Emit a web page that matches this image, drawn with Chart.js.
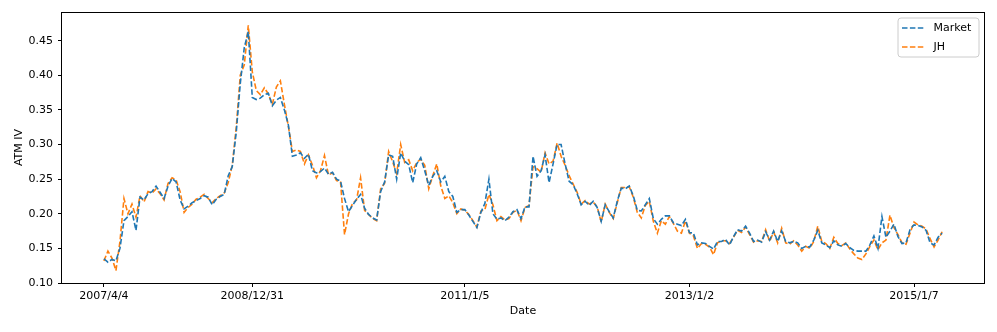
<!DOCTYPE html>
<html>
<head>
<meta charset="utf-8">
<script src="https://cdn.jsdelivr.net/npm/chart.js@4.4.1/dist/chart.umd.min.js"></script>
<style>
  html, body { margin: 0; padding: 0; background: #fff; }
  #wrap { position: relative; width: 997px; height: 332px; }
</style>
</head>
<body>
<div id="wrap"><canvas id="ivChart"></canvas></div>
<script>
// x axis is the observation index; only a few dates are labelled
const tickLabels = ['2007/4/4', '2008/12/31', '2011/1/5', '2013/1/2', '2015/1/7'];
const tickIndex = [0, 37, 90, 146, 202];
const yTicks = [0.10, 0.15, 0.20, 0.25, 0.30, 0.35, 0.40, 0.45];

const market = [
  0.135, 0.130, 0.134, 0.132, 0.150, 0.190, 0.196, 0.203, 0.176, 0.224,
  0.220, 0.229, 0.232, 0.240, 0.231, 0.222, 0.240, 0.251, 0.246, 0.220,
  0.207, 0.211, 0.216, 0.219, 0.222, 0.226, 0.224, 0.213, 0.221, 0.225,
  0.228, 0.255, 0.268, 0.318, 0.388, 0.440, 0.463, 0.368, 0.365, 0.367,
  0.372, 0.374, 0.356, 0.364, 0.368, 0.350, 0.328, 0.283, 0.285, 0.288,
  0.280, 0.286, 0.262, 0.259, 0.261, 0.266, 0.257, 0.260, 0.250, 0.247,
  0.222, 0.203, 0.212, 0.221, 0.228, 0.208, 0.199, 0.194, 0.191, 0.232,
  0.246, 0.285, 0.283, 0.250, 0.288, 0.276, 0.271, 0.245, 0.272, 0.281,
  0.262, 0.241, 0.254, 0.262, 0.246, 0.254, 0.232, 0.225, 0.202, 0.206,
  0.206, 0.198, 0.189, 0.180, 0.202, 0.215, 0.250, 0.200, 0.192, 0.194,
  0.190, 0.195, 0.203, 0.206, 0.193, 0.210, 0.210, 0.283, 0.254, 0.262,
  0.285, 0.245, 0.272, 0.300, 0.300, 0.272, 0.247, 0.242, 0.229, 0.213,
  0.218, 0.212, 0.218, 0.209, 0.189, 0.213, 0.203, 0.194, 0.218, 0.237,
  0.236, 0.240, 0.226, 0.205, 0.204, 0.213, 0.222, 0.193, 0.185, 0.192,
  0.197, 0.197, 0.187, 0.185, 0.183, 0.192, 0.173, 0.172, 0.155, 0.158,
  0.157, 0.153, 0.149, 0.160, 0.160, 0.163, 0.155, 0.167, 0.177, 0.175,
  0.182, 0.172, 0.160, 0.162, 0.159, 0.174, 0.162, 0.175, 0.160, 0.175,
  0.160, 0.158, 0.160, 0.158, 0.150, 0.153, 0.152, 0.162, 0.176, 0.158,
  0.155, 0.151, 0.161, 0.155, 0.153, 0.157, 0.151, 0.147, 0.146, 0.146,
  0.146, 0.155, 0.168, 0.150, 0.196, 0.166, 0.175, 0.185, 0.167, 0.157,
  0.158, 0.177, 0.184, 0.183, 0.181, 0.176, 0.158, 0.155, 0.166, 0.172
];

const jh = [
  0.132, 0.146, 0.136, 0.118, 0.160, 0.222, 0.200, 0.214, 0.195, 0.226,
  0.217, 0.232, 0.230, 0.236, 0.229, 0.220, 0.244, 0.252, 0.249, 0.232,
  0.202, 0.209, 0.214, 0.221, 0.224, 0.228, 0.222, 0.216, 0.222, 0.226,
  0.230, 0.245, 0.270, 0.325, 0.400, 0.415, 0.472, 0.405, 0.378, 0.372,
  0.382, 0.373, 0.358, 0.383, 0.392, 0.358, 0.326, 0.290, 0.292, 0.290,
  0.272, 0.285, 0.270, 0.252, 0.262, 0.284, 0.256, 0.259, 0.248, 0.246,
  0.170, 0.200, 0.215, 0.220, 0.252, 0.205, 0.199, 0.193, 0.190, 0.236,
  0.244, 0.290, 0.275, 0.258, 0.300, 0.274, 0.278, 0.262, 0.274, 0.279,
  0.270, 0.236, 0.255, 0.272, 0.240, 0.222, 0.226, 0.216, 0.200, 0.207,
  0.205, 0.199, 0.190, 0.181, 0.204, 0.206, 0.228, 0.213, 0.190, 0.196,
  0.191, 0.193, 0.202, 0.205, 0.190, 0.209, 0.212, 0.268, 0.265, 0.260,
  0.288, 0.272, 0.276, 0.302, 0.283, 0.270, 0.255, 0.243, 0.231, 0.214,
  0.219, 0.214, 0.217, 0.210, 0.188, 0.214, 0.202, 0.193, 0.216, 0.238,
  0.238, 0.239, 0.224, 0.202, 0.194, 0.212, 0.218, 0.189, 0.172, 0.190,
  0.185, 0.196, 0.186, 0.175, 0.172, 0.190, 0.172, 0.168, 0.150, 0.157,
  0.156, 0.152, 0.141, 0.158, 0.161, 0.161, 0.157, 0.166, 0.176, 0.173,
  0.181, 0.170, 0.159, 0.161, 0.160, 0.177, 0.160, 0.174, 0.158, 0.179,
  0.158, 0.156, 0.161, 0.155, 0.146, 0.153, 0.150, 0.160, 0.182, 0.160,
  0.157, 0.150, 0.166, 0.157, 0.154, 0.158, 0.149, 0.142, 0.136, 0.134,
  0.142, 0.153, 0.162, 0.148, 0.158, 0.162, 0.198, 0.180, 0.170, 0.158,
  0.156, 0.172, 0.188, 0.184, 0.182, 0.178, 0.164, 0.152, 0.162, 0.174
];

const seriesNames = ['Market', 'JH'];
const seriesColors = ['#1f77b4', '#ff7f0e'];
const dashPattern = [5.5, 2.4];

Chart.defaults.font.family = "'DejaVu Sans', sans-serif";
Chart.defaults.font.size = 11;
Chart.defaults.color = '#000';

const lastIdx = market.length - 1;
const xPad = lastIdx * 0.05;

// axes box drawn on top of the lines, like matplotlib spines
const framePlugin = {
  id: 'frame',
  afterDatasetsDraw(chart) {
    const { ctx, chartArea: a } = chart;
    ctx.save();
    ctx.strokeStyle = '#000';
    ctx.lineWidth = 1;
    ctx.strokeRect(Math.round(a.left) - 0.5, Math.round(a.top) + 0.5,
      Math.round(a.right - a.left) + 1, Math.round(a.bottom - a.top));
    ctx.restore();
  }
};

// matplotlib-like legend box in the upper right corner
const legendPlugin = {
  id: 'mplLegend',
  afterDraw(chart) {
    const { ctx, chartArea: a } = chart;
    const boxW = 81, boxH = 39;
    const bx = a.right - 5.5 - boxW;
    const by = a.top + 5.5;
    ctx.save();
    ctx.fillStyle = 'rgba(255,255,255,0.8)';
    ctx.strokeStyle = '#cccccc';
    ctx.lineWidth = 1;
    ctx.beginPath();
    ctx.roundRect(bx + 0.5, by + 0.5, boxW, boxH, 3);
    ctx.fill();
    ctx.stroke();
    ctx.font = "11px 'DejaVu Sans', sans-serif";
    ctx.textBaseline = 'middle';
    ctx.fillStyle = '#000';
    seriesNames.forEach((name, k) => {
      const cy = by + 10.5 + k * 19;
      ctx.strokeStyle = seriesColors[k];
      ctx.lineWidth = 1.6;
      ctx.setLineDash(dashPattern);
      ctx.beginPath();
      ctx.moveTo(bx + 4.5, cy);
      ctx.lineTo(bx + 27, cy);
      ctx.stroke();
      ctx.setLineDash([]);
      ctx.fillText(name, bx + 36, cy);
    });
    ctx.restore();
  }
};

const toPoints = arr => arr.map((v, i) => ({ x: i, y: v }));

new Chart(document.getElementById('ivChart'), {
  type: 'line',
  data: {
    datasets: [
      {
        label: seriesNames[0],
        data: toPoints(market),
        borderColor: seriesColors[0],
        borderWidth: 1.6,
        borderDash: dashPattern,
        pointRadius: 0,
        tension: 0,
        fill: false
      },
      {
        label: seriesNames[1],
        data: toPoints(jh),
        borderColor: seriesColors[1],
        borderWidth: 1.6,
        borderDash: dashPattern,
        pointRadius: 0,
        tension: 0,
        fill: false
      }
    ]
  },
  options: {
    responsive: true,
    maintainAspectRatio: false,
    animation: false,
    devicePixelRatio: 1,
    layout: { padding: { left: 0, top: 12, right: 13, bottom: 0 } },
    plugins: {
      legend: { display: false },
      tooltip: { enabled: false }
    },
    scales: {
      x: {
        type: 'linear',
        min: -xPad,
        max: lastIdx + xPad,
        border: { display: false },
        grid: { display: true, drawOnChartArea: false, drawTicks: true, tickLength: 4, color: '#000' },
        afterBuildTicks: scale => { scale.ticks = tickIndex.map(v => ({ value: v })); },
        afterFit: scale => { scale.height = 49; },
        ticks: {
          autoSkip: false,
          maxRotation: 0,
          minRotation: 0,
          padding: 3,
          callback: (value, index) => tickLabels[index]
        },
        title: { display: true, text: 'Date', padding: { top: 14, bottom: 14 } }
      },
      y: {
        min: 0.10,
        max: 0.4914,
        border: { display: false },
        grid: { display: true, drawOnChartArea: false, drawTicks: true, tickLength: 4, color: '#000' },
        afterBuildTicks: scale => { scale.ticks = yTicks.map(v => ({ value: v })); },
        afterFit: scale => { scale.width = 62; },
        ticks: {
          padding: 5,
          callback: value => value.toFixed(2)
        },
        title: { display: true, text: 'ATM IV', padding: { top: 13, bottom: 13 } }
      }
    }
  },
  plugins: [framePlugin, legendPlugin]
});
</script>
</body>
</html>
